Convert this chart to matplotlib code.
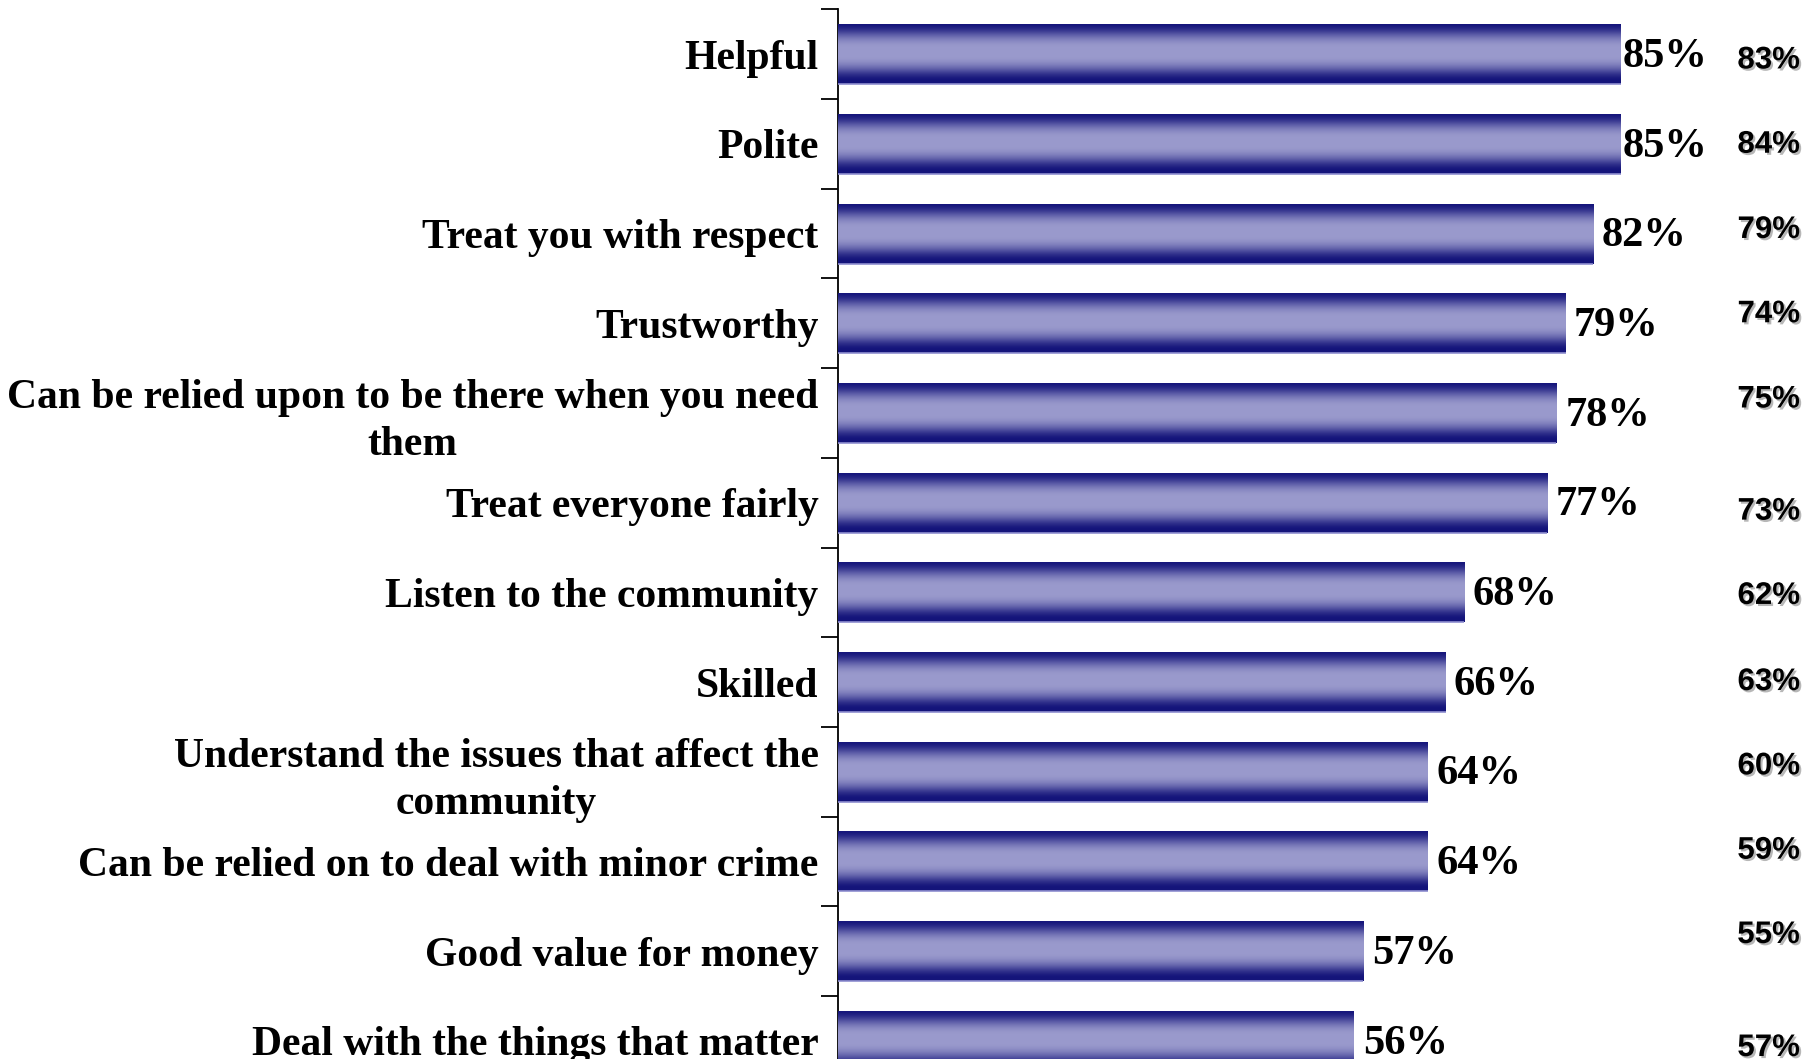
import numpy as np
import matplotlib
matplotlib.use("Agg")
import matplotlib.pyplot as plt
import matplotlib.patheffects as pe
from matplotlib.colors import LinearSegmentedColormap

categories = [
    "Helpful",
    "Polite",
    "Treat you with respect",
    "Trustworthy",
    "Can be relied upon to be there when you need\nthem",
    "Treat everyone fairly",
    "Listen to the community",
    "Skilled",
    "Understand the issues that affect the\ncommunity",
    "Can be relied on to deal with minor crime",
    "Good value for money",
    "Deal with the things that matter",
]
current_values = [85, 85, 82, 79, 78, 77, 68, 66, 64, 64, 57, 56]
previous_values = [83, 84, 79, 74, 75, 73, 62, 63, 60, 59, 55, 57]

# layout nudges (not data): vertical offsets of right-hand labels, gaps of value labels
right_label_nudge = [0.07, 0.01, -0.04, -0.1, -0.15, 0.1, 0.04, 0.0, -0.06, -0.12, -0.18, 0.08]
value_label_gap = [0.2, 0.2, 0.9, 0.9, 1.0, 0.9, 0.9, 0.8, 1.0, 1.0, 1.0, 1.0]

W, H = 1819, 1059
fig = plt.figure(figsize=(W / 100, H / 100), dpi=100)
fig.patch.set_facecolor("white")

left = 838 / W
top = 1 - 9.3 / H
band = 89.7 / H
n = len(categories)
ax = fig.add_axes([left, top - band * n, 1 - left, band * n])
XMAX = 106.5
ax.set_xlim(0, XMAX)
ax.set_ylim(n - 0.5, -0.5)

ypos = np.arange(n)
bh = 0.67
bars = ax.barh(ypos, current_values, height=bh, color="#2a2a8a", edgecolor="none", zorder=2)

# vertical gradient inside each bar
prof = np.array([0.0, 0.1, 0.25, 0.45, 0.65, 0.82, 0.93, 1, 1, 1, 1, 1, 0.93, 0.82, 0.65, 0.45, 0.25, 0.1, 0.0, 0.0])
cmap = LinearSegmentedColormap.from_list("g", ["#14147a", "#5a5aa6", "#9999cc"])
grad = prof.reshape(-1, 1)
for rect in bars:
    x0, y0 = rect.get_x(), rect.get_y()
    w, h = rect.get_width(), rect.get_height()
    im = ax.imshow(grad, cmap=cmap, vmin=0, vmax=1, aspect="auto",
                   extent=(x0, x0 + w, y0 + h, y0), interpolation="bicubic", zorder=3)
    im.set_clip_path(rect)
    ax.plot([x0, x0 + w], [y0 + h, y0 + h], color="#8f8fd0", lw=1.2, zorder=4, solid_capstyle="butt")
ax.set_xlim(0, XMAX)
ax.set_ylim(n - 0.5, -0.5)

# value labels
for y, v, g in zip(ypos, current_values, value_label_gap):
    ax.text(v + g, y + 0.03, f"{v}%", ha="left", va="center",
            fontsize=30.5, fontweight="bold", family="Liberation Serif", zorder=5)

# right comparison labels
shadow = [pe.SimplePatchShadow(offset=(1.5, -1.5), shadow_rgbFace="#999999", alpha=0.7), pe.Normal()]
tr = matplotlib.transforms.blended_transform_factory(fig.transFigure, ax.transData)
for y, v, d in zip(ypos, previous_values, right_label_nudge):
    t = ax.text(1800 / W, y + d, f"{v}%", transform=tr, ha="right", va="center",
                fontsize=22.5, fontweight="bold", family="Liberation Sans", clip_on=False)
    t.set_path_effects(shadow)

# axes styling
for s in ["top", "right", "bottom"]:
    ax.spines[s].set_visible(False)
ax.spines["left"].set_linewidth(1.3)
ax.spines["left"].set_color("black")
ax.set_xticks([])
ax.set_yticks(ypos)
ax.set_yticklabels(categories, fontsize=30, fontweight="bold", family="Liberation Serif",
                   multialignment="center", linespacing=1.3)
ax.tick_params(axis="y", which="major", length=0, pad=14)
ax.set_yticks(np.arange(n + 1) - 0.5, minor=True)
ax.tick_params(axis="y", which="minor", length=12, width=1.3, direction="out")

fig.savefig("out.png", dpi=100, facecolor="white")
